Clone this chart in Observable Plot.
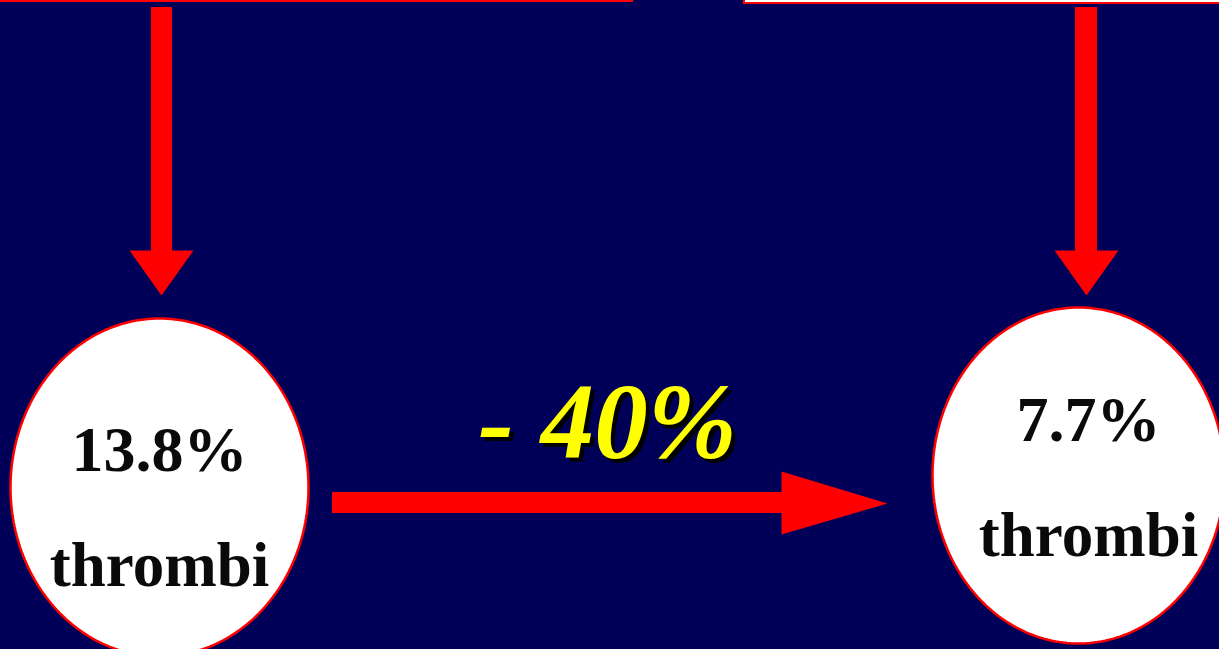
<!DOCTYPE html>
<html><head><meta charset="utf-8">
<script src="https://cdn.jsdelivr.net/npm/d3@7"></script>
<script src="https://cdn.jsdelivr.net/npm/@observablehq/plot@0.6"></script>
<style>
html,body{margin:0;padding:0;background:#000058;overflow:hidden}
#chart svg{display:block;background:linear-gradient(to bottom,#00004e 0%,#000058 50%,#000064 100%)}
.shadowed text{text-shadow:4px 4px 0 #000}
</style>
</head><body><div id="chart"></div>
<script>
// ---- data ----
const groups = ["Before", "After"];
const rates = ["13.8%", "7.7%"];
const units = ["thrombi", "thrombi"];
const changeLabel = ["- 40%"];

// ---- layout (pixel space) ----
const W = 1219, H = 649;
const layout = [
  {cx: 159, cy: 487, rx: 149, ry: 169, tx: 159, rateY: 470, unitY: 585, s1: 151, s2: 172, h1: 129, h2: 193, tip: 161},
  {cx: 1078, cy: 475, rx: 146, ry: 168, tx: 1088, rateY: 440, unitY: 555, s1: 1075, s2: 1097, h1: 1054, h2: 1118, tip: 1086}
];
const nodes = groups.map((g, i) => ({group: g, rate: rates[i], unit: units[i], ...layout[i]}));

// ellipse outlines
const ellipsePts = nodes.flatMap(n => d3.range(0, 241).map(k => {
  const t = k / 240 * 2 * Math.PI;
  return {group: n.group, x: n.cx + n.rx * Math.cos(t), y: n.cy + n.ry * Math.sin(t)};
}));
// vertical arrowheads
const vHeads = nodes.flatMap(n => [
  {group: n.group, x: n.h1, y: 250}, {group: n.group, x: n.h2, y: 250}, {group: n.group, x: n.tip, y: 295}, {group: n.group, x: n.h1, y: 250}
]);
const vShafts = nodes.map(n => ({group: n.group, x1: n.s1, x2: n.s2, y1: 7, y2: 252}));
// horizontal arrow
const hShaft = [{x1: 332, x2: 783, y1: 492, y2: 513}];
const hHead = [{x: 781, y: 471}, {x: 781, y: 534}, {x: 887, y: 503}, {x: 781, y: 471}];
// top boxes (bottom edges visible)
const topBoxes = [{x1: -10, x2: 632, y1: -40, y2: 1}, {x1: 744, x2: 1240, y1: -40, y2: 3}];

const serif = "'Liberation Serif','Times New Roman',serif";

const chart = Plot.plot({
  width: W, height: H,
  margin: 0,
  x: {domain: [0, W], range: [0, W], axis: null},
  y: {domain: [0, H], range: [0, H], axis: null},
  style: {background: "transparent"},
  marks: [
    Plot.rect(topBoxes, {x1: "x1", x2: "x2", y1: "y1", y2: "y2", fill: "white", stroke: "red", strokeWidth: 2}),
    Plot.rect(vShafts, {x1: "x1", x2: "x2", y1: "y1", y2: "y2", fill: "red"}),
    Plot.line(vHeads, {x: "x", y: "y", z: "group", fill: "red", stroke: "none", curve: "linear"}),
    Plot.line(ellipsePts, {x: "x", y: "y", z: "group", fill: "white", stroke: "red", strokeWidth: 2.5, curve: "linear"}),
    Plot.rect(hShaft, {x1: "x1", x2: "x2", y1: "y1", y2: "y2", fill: "red"}),
    Plot.line(hHead, {x: "x", y: "y", fill: "red", stroke: "none", curve: "linear"}),
    Plot.text(nodes, {x: "tx", y: "rateY", text: "rate", fontSize: 64, fontWeight: "bold", fontFamily: serif, fill: "#0a0a0a", lineAnchor: "bottom", textAnchor: "middle"}),
    Plot.text(nodes, {x: "tx", y: "unitY", text: "unit", fontSize: 63, fontWeight: "bold", fontFamily: serif, fill: "#0a0a0a", lineAnchor: "bottom", textAnchor: "middle"}),
    Plot.text(changeLabel, {x: () => 607, y: () => 457, text: d => d, className: "shadowed", fontSize: 107, fontWeight: "bold", fontStyle: "italic", fontFamily: serif, fill: "#ffff00", lineAnchor: "bottom", textAnchor: "middle"})
  ]
});
document.getElementById("chart").appendChild(chart);
</script>
</body></html>
